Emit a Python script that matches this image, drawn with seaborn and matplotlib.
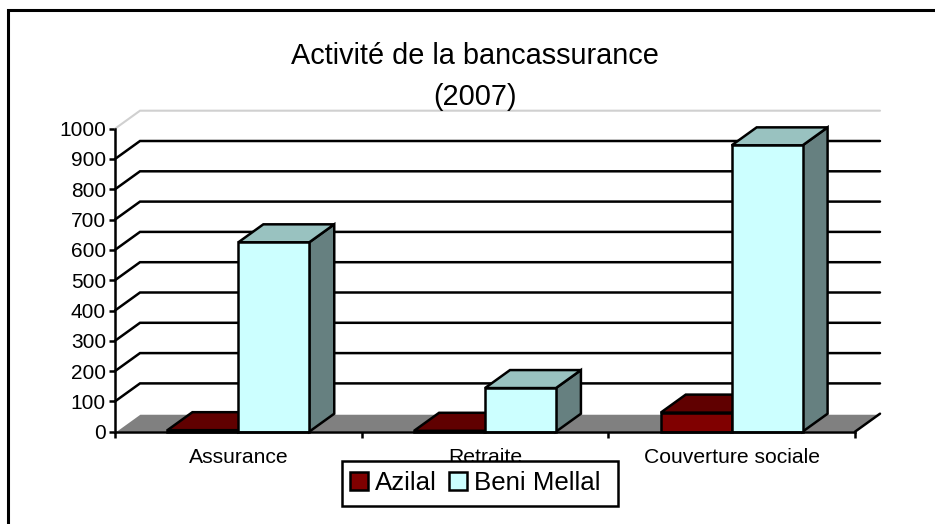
import pandas as pd
import matplotlib
matplotlib.use("Agg")
import matplotlib.pyplot as plt
import seaborn as sns
from matplotlib.lines import Line2D
from matplotlib.patches import Polygon, Rectangle

categories = ['Assurance', 'Retraite', 'Couverture sociale']
azilal = [5, 3, 63]
beni_mellal = [625, 144, 945]
y_ticks = [0, 100, 200, 300, 400, 500, 600, 700, 800, 900, 1000]
series_colors = {'Azilal': '#800000', 'Beni Mellal': '#CCFFFF'}
top_colors = {'Azilal': '#600000', 'Beni Mellal': '#99C2C0'}
side_colors = {'Azilal': '#600000', 'Beni Mellal': '#668080'}

df = pd.DataFrame({
    'categorie': categories * 2,
    'serie': ['Azilal'] * 3 + ['Beni Mellal'] * 3,
    'valeur': azilal + beni_mellal,
})

sns.set_style('white')
plt.rcParams['font.family'] = ['Liberation Sans', 'DejaVu Sans']

W, H = 935, 524
fig = plt.figure(figsize=(W / 100, H / 100), dpi=100)
fig.patch.set_facecolor('white')
# cadre : seuls le haut et la gauche sont dans l'image
fig.add_artist(Line2D([W / W, 8 / W, 8 / W], [1 - 10 / H, 1 - 10 / H, 0], transform=fig.transFigure,
                      color='black', lw=2.2, solid_joinstyle='miter'))

ax = fig.add_axes([115 / W, 1 - 431.7 / H, 740 / W, 303 / H])
lw = 1.8
sns.barplot(data=df, x='categorie', y='valeur', hue='serie', order=categories,
            palette=series_colors, edgecolor='black', linewidth=lw, width=0.575,
            saturation=1, legend=False, ax=ax)
ax.set_xlim(-0.5, 2.5)
ax.set_ylim(0, 1000)
ax.patch.set_alpha(0)

# profondeur du faux 3D, en unites de donnees
dx = 25 / 740 * 3
dy = 18 / 303 * 1000

# fond : sol gris et grille
ax.add_patch(Polygon([(-0.5, 0), (-0.5 + dx, dy), (2.5 + dx, dy), (2.5, 0)], closed=True,
                     facecolor='#808080', edgecolor='none', zorder=1, clip_on=False))
ax.plot([-0.5, -0.5 + dx, 2.5 + dx], [0, dy, dy], color='white', lw=1.5, zorder=1.1, clip_on=False)
ax.plot([2.5, 2.5 + dx], [0, dy], color='black', lw=lw, zorder=1.1, clip_on=False)
for v in y_ticks[1:]:
    c = '#D0D0D0' if v == 1000 else 'black'
    ax.plot([-0.5, -0.5 + dx, 2.5 + dx], [v, v + dy, v + dy], color=c,
            lw=1.5 if v == 1000 else lw, zorder=1.2, clip_on=False, solid_joinstyle='miter')

# faces laterales et dessus de chaque barre
n_cat = len(categories)
names = ['Azilal'] * n_cat + ['Beni Mellal'] * n_cat
for bar, name in zip(ax.patches[:2 * n_cat], names):
    x0, x1 = bar.get_x(), bar.get_x() + bar.get_width()
    h = bar.get_height()
    base = 2 + (bar.get_x() + 0.5) * 2 + (0.5 if name == 'Beni Mellal' else 0)
    ax.add_patch(Polygon([(x1, 0), (x1 + dx, dy), (x1 + dx, h + dy), (x1, h)], closed=True,
                         facecolor=side_colors[name], edgecolor='black', lw=lw, zorder=base,
                         clip_on=False, joinstyle='miter'))
    ax.add_patch(Polygon([(x0, h), (x0 + dx, h + dy), (x1 + dx, h + dy), (x1, h)], closed=True,
                         facecolor=top_colors[name], edgecolor='black', lw=lw, zorder=base,
                         clip_on=False, joinstyle='miter'))
    bar.set_zorder(base + 0.1)
    bar.set_clip_on(False)

sns.despine(ax=ax, top=True, right=True)
for s in ['left', 'bottom']:
    ax.spines[s].set_color('black')
    ax.spines[s].set_linewidth(lw)
    ax.spines[s].set_zorder(20)

ax.set_yticks(y_ticks)
ax.set_xticks(range(n_cat))
ax.set_xticklabels(categories)
ax.set_xticks([-0.5, 0.5, 1.5, 2.5], minor=True)
ax.tick_params(axis='x', which='major', length=0, labelsize=15.25, pad=12, labelcolor='black')
ax.tick_params(axis='x', which='minor', length=4.5, width=lw, color='black', bottom=True)
ax.tick_params(axis='y', length=4.5, width=lw, labelsize=15, pad=2, color='black', labelcolor='black', left=True)
ax.set_xlabel('')
ax.set_ylabel('')

fig.text(475 / W, 1 - 76.5 / H, 'Activité de la bancassurance\n(2007)', ha='center', va='center',
         fontsize=20.8, color='black', linespacing=1.55)

# legende : cadre blanc au-dessus des axes (il coupe le bas de "Retraite")
fig.add_artist(Rectangle((341.7 / W, 1 - 505.7 / H), 276.3 / W, 45 / H, transform=fig.transFigure,
                         facecolor='white', edgecolor='black', linewidth=lw, zorder=4))
handles = [Rectangle((0, 0), 1, 1, facecolor=series_colors[k], edgecolor='black', linewidth=lw)
           for k in series_colors]
fig.legend(handles, list(series_colors), ncol=2, loc='center left',
           bbox_to_anchor=(350 / W, 1 - 483 / H), fontsize=18.6, frameon=False,
           labelcolor='black', handlelength=0.7, handleheight=0.7, handletextpad=0.27,
           columnspacing=0.47, borderpad=0, borderaxespad=0)

fig.savefig('out.png', dpi=100)
